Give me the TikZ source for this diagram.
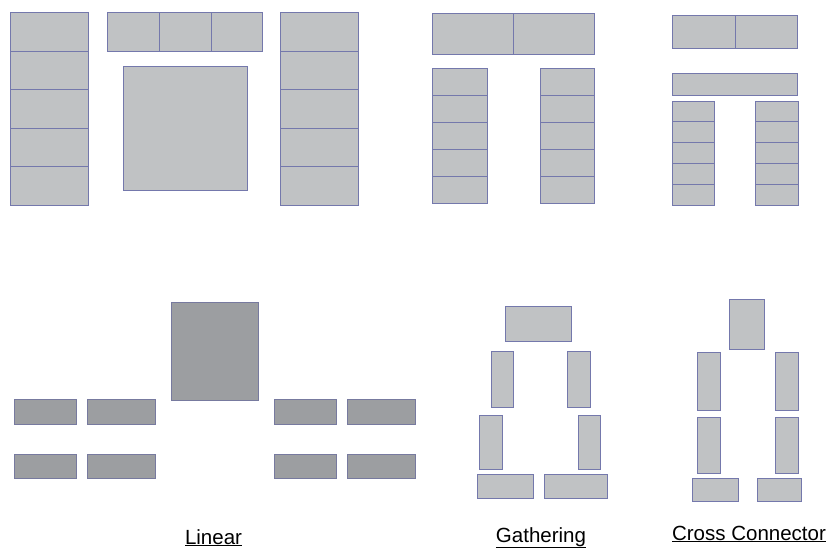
\documentclass[tikz,border=0pt]{standalone}
\usepackage{fontspec}
\setmainfont{Liberation Sans}
\definecolor{lfill}{HTML}{C0C2C4}
\definecolor{dfill}{HTML}{9C9EA1}
\definecolor{edge}{HTML}{7478AC}
\begin{document}
\begin{tikzpicture}[x=1pt,y=-1pt,
  lbox/.style={fill=lfill,draw=edge,line width=0.9pt},
  dbox/.style={fill=dfill,draw=edge!70!gray,line width=0.7pt},
  lbl/.style={anchor=base,inner sep=0pt,font=\fontsize{20.5}{24}\selectfont}]
\useasboundingbox[fill=white] (0,0) rectangle (828,548);
% ---- top-left
\foreach \a/\b in {12/51,51/89,89/128,128/166,166/205}{
  \draw[lbox] (10,\a) rectangle (88,\b);
  \draw[lbox] (280,\a) rectangle (358,\b);}
\foreach \a/\b in {107/159,159/211,211/262}{
  \draw[lbox] (\a,12) rectangle (\b,51);}
\draw[lbox] (123,66) rectangle (247,190);
% ---- top-middle
\draw[lbox] (432,13) rectangle (513,54);
\draw[lbox] (513,13) rectangle (594,54);
\foreach \a/\b in {68/95,95/122,122/149,149/176,176/203}{
  \draw[lbox] (432,\a) rectangle (487,\b);
  \draw[lbox] (540,\a) rectangle (594,\b);}
% ---- top-right
\draw[lbox] (672,15) rectangle (735,48);
\draw[lbox] (735,15) rectangle (797,48);
\draw[lbox] (672,73) rectangle (797,95);
\foreach \a/\b in {101/121,121/142,142/163,163/184,184/205}{
  \draw[lbox] (672,\a) rectangle (714,\b);
  \draw[lbox] (755,\a) rectangle (798,\b);}
% ---- Linear
\draw[dbox] (171,302) rectangle (258,400);
\foreach \a/\b in {399/424,454/478}{
  \draw[dbox] (14,\a) rectangle (76,\b);
  \draw[dbox] (87,\a) rectangle (155,\b);
  \draw[dbox] (274,\a) rectangle (336,\b);
  \draw[dbox] (347,\a) rectangle (415,\b);}
\node[lbl] (linear) at (213.5,544) {\underline{Linear}};
% ---- Gathering
\draw[lbox] (505,306) rectangle (571,341);
\draw[lbox] (491,351) rectangle (513,407);
\draw[lbox] (567,351) rectangle (590,407);
\draw[lbox] (479,415) rectangle (502,469);
\draw[lbox] (578,415) rectangle (600,469);
\draw[lbox] (477,474) rectangle (533,498);
\draw[lbox] (544,474) rectangle (607,498);
\node[lbl] (gathering) at (541,542) {\underline{Gathering}};
% ---- Cross Connector
\draw[lbox] (729,299) rectangle (764,349);
\draw[lbox] (697,352) rectangle (720,410);
\draw[lbox] (775,352) rectangle (798,410);
\draw[lbox] (697,417) rectangle (720,473);
\draw[lbox] (775,417) rectangle (798,473);
\draw[lbox] (692,478) rectangle (738,501);
\draw[lbox] (757,478) rectangle (801,501);
\node[lbl] (cross) at (749,540) {\underline{Cross Connector}};
\end{tikzpicture}
\end{document}
